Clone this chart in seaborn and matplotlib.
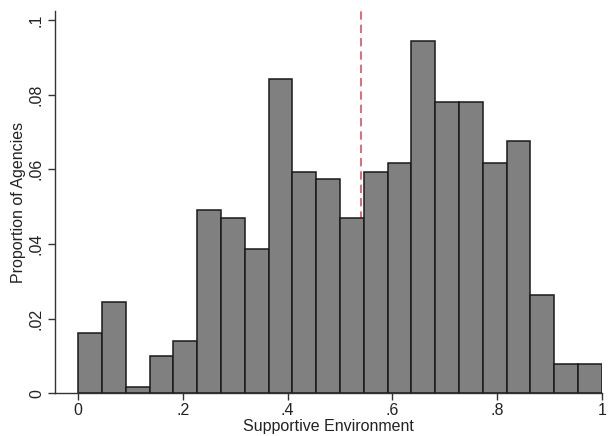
import numpy as np
import pandas as pd
import matplotlib
matplotlib.use("Agg")
import matplotlib.pyplot as plt
import seaborn as sns

# bin proportions (22 equal bins on [0, 1])
proportions = [0.0161, 0.0244, 0.0018, 0.0100, 0.0140, 0.0491, 0.0469, 0.0387,
               0.0842, 0.0593, 0.0573, 0.0470, 0.0593, 0.0616, 0.0944, 0.0779,
               0.0779, 0.0616, 0.0676, 0.0263, 0.0078, 0.0078]
n_bins = 22
cutoff = 0.540
y_ticks = [0, 0.02, 0.04, 0.06, 0.08, 0.1]
y_labels = ["0", ".02", ".04", ".06", ".08", ".1"]
x_ticks = [0, 0.2, 0.4, 0.6, 0.8, 1.0]
x_labels = ["0", ".2", ".4", ".6", ".8", "1"]

edges = np.linspace(0, 1, n_bins + 1)
df = pd.DataFrame({
    "score": (edges[:-1] + edges[1:]) / 2,
    "prop": proportions,
})

sns.set_style("ticks")
plt.rcParams["font.family"] = ["Liberation Sans", "DejaVu Sans"]

fig = plt.figure(figsize=(6.08, 4.36), dpi=100)
ax = fig.add_axes([0.0905, 0.098, 0.8995, 0.877])

ax.axvline(cutoff, color="#e0505a", lw=1.2, ls=(0, (5, 3)), zorder=0)

sns.histplot(data=df, x="score", weights="prop", bins=n_bins, binrange=(0, 1),
             stat="count", color="#808080", edgecolor="#1a1a1a", linewidth=1.1,
             alpha=1, ax=ax, zorder=2)

ax.set_xlim(-0.044, 1.0)
ax.set_ylim(0, 0.1024)
ax.set_xticks(x_ticks)
ax.set_xticklabels(x_labels)
ax.set_yticks(y_ticks)
ax.set_yticklabels(y_labels, rotation=90, va="center")
ax.tick_params(axis="both", direction="out", length=5, width=1, color="#333333",
               labelsize=11.5, labelcolor="#222222")
ax.tick_params(axis="y", pad=3)
ax.tick_params(axis="x", pad=2)
ax.set_xlabel("Supportive Environment", fontsize=11.5, color="#222222", labelpad=1)
ax.set_ylabel("Proportion of Agencies", fontsize=11.5, color="#222222", labelpad=2)

sns.despine(ax=ax)
for side in ["left", "bottom"]:
    ax.spines[side].set_color("#333333")
    ax.spines[side].set_linewidth(1.0)

fig.savefig("out.png", dpi=100)
